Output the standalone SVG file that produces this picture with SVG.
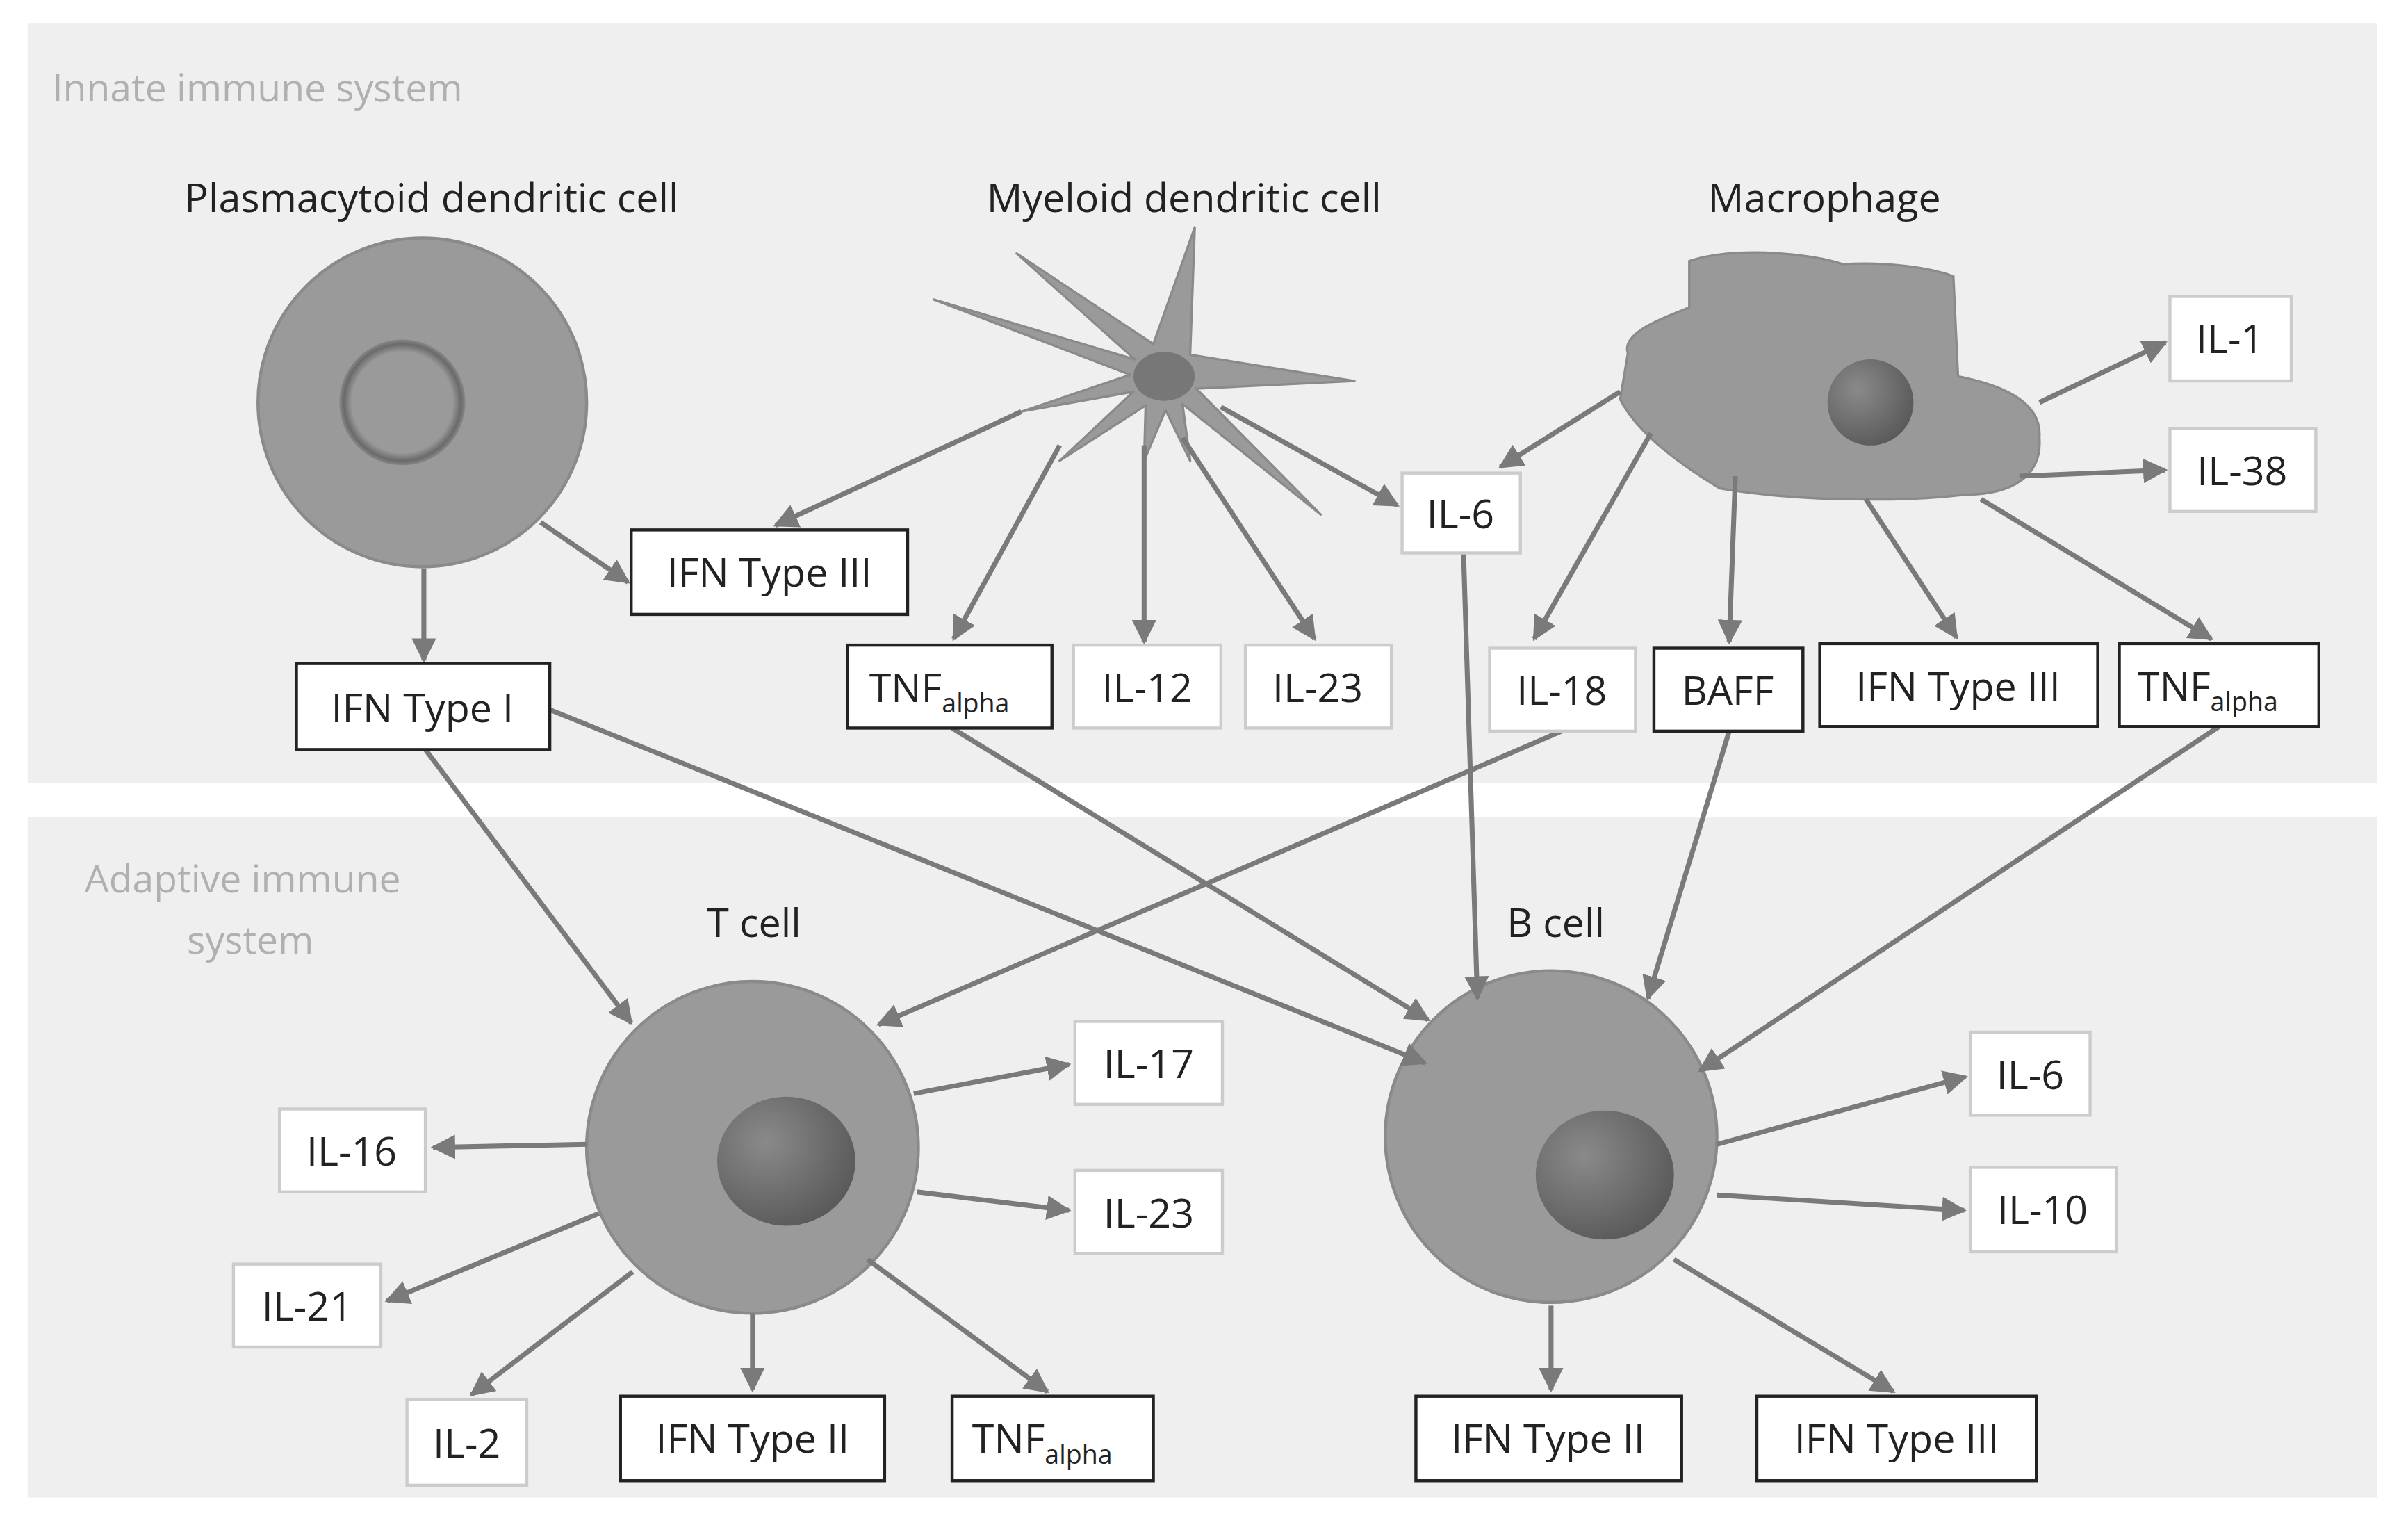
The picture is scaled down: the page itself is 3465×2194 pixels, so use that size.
<svg xmlns="http://www.w3.org/2000/svg" width="3465" height="2194" viewBox="0 0 3465 2194">
<style>
.t{font-family:"Open Sans","Liberation Sans",sans-serif;fill:#222;font-size:26px}
.h{font-family:"Open Sans","Liberation Sans",sans-serif;fill:#b0b0b0;font-size:25px}
.hd{font-family:"Open Sans","Liberation Sans",sans-serif;fill:#222;font-size:26px;text-anchor:middle}
.bl{fill:#fff;stroke:#ccc;stroke-width:2}
.bd{fill:#fff;stroke:#222;stroke-width:2}
.c{fill:#9a9a9a;stroke:#8a8a8a;stroke-width:2}
.ar line{stroke:#7a7a7a;stroke-width:3.2;marker-end:url(#a)}
</style>
<defs>
<marker id="a" viewBox="0 0 10 10" refX="9" refY="5" markerWidth="5" markerHeight="5" orient="auto" markerUnits="strokeWidth"><path d="M0,0L10,5L0,10z" fill="#7a7a7a"/></marker>
<radialGradient id="n" cx="0.35" cy="0.35" r="0.7"><stop offset="0" stop-color="#8a8a8a"/><stop offset="1" stop-color="#5a5a5a"/></radialGradient>
<radialGradient id="ring" cx="0.5" cy="0.5" r="0.5"><stop offset="0.8" stop-color="#9a9a9a"/><stop offset="0.93" stop-color="#6a6a6a"/><stop offset="1" stop-color="#888"/></radialGradient>
</defs>
<rect width="3465" height="2194" fill="#fff"/>
<g transform="scale(2.2098)">
<rect x="18" y="15" width="1530" height="495" fill="#efefef"/>
<rect x="18" y="532" width="1530" height="443" fill="#efefef"/>
<text class="h" x="34" y="66">Innate immune system</text>
<text class="h" x="158" y="581" text-anchor="middle">Adaptive immune</text>
<text class="h" x="163" y="621" text-anchor="middle">system</text>
<text class="hd" x="281" y="138">Plasmacytoid dendritic cell</text>
<text class="hd" x="771" y="138">Myeloid dendritic cell</text>
<text class="hd" x="1188" y="138">Macrophage</text>
<text class="hd" x="491" y="610">T cell</text>
<text class="hd" x="1013" y="610">B cell</text>

<g id="pdc"><circle class="c" cx="275" cy="262" r="107"/><circle cx="262" cy="262" r="41" fill="url(#ring)"/></g>
<g id="mdc"><polygon fill="#9a9a9a" stroke="#8a8a8a" stroke-width="1.5" stroke-linejoin="round" points="882,248 779,253 860,335 770,263 775,300 759,267 745,300 746,264 690,300 738,255 665,268 736,244 608,195 739,234 662,165 751,224 778,148 775,231"/><ellipse cx="758" cy="245" rx="20" ry="16" fill="#777"/></g>
<g id="mac"><path fill="#999" stroke="#8a8a8a" stroke-width="1.5" d="M1060,230 C1055,215 1090,205 1100,200 L1100,170 C1130,160 1180,165 1200,172 C1230,170 1260,175 1272,180 L1275,245 C1300,250 1330,260 1328,285 C1330,310 1310,322 1280,322 C1230,328 1160,325 1120,318 C1090,300 1065,280 1055,260 Z"/><circle cx="1218" cy="262" r="28" fill="url(#n)"/></g>
<g id="tcell"><circle class="c" cx="490" cy="747" r="108"/><ellipse cx="512" cy="756" rx="45" ry="42" fill="url(#n)"/></g>
<g id="bcell"><circle class="c" cx="1010" cy="740" r="108"/><ellipse cx="1045" cy="765" rx="45" ry="42" fill="url(#n)"/></g>

<g class="ar" id="connectors">
<line x1="352" y1="340" x2="409" y2="379"/>
<line x1="276" y1="370" x2="276" y2="430"/>
<line x1="665" y1="268" x2="505" y2="342"/>
<line x1="690" y1="290" x2="621" y2="416"/>
<line x1="745" y1="290" x2="745" y2="418"/>
<line x1="770" y1="285" x2="856" y2="416"/>
<line x1="795" y1="265" x2="910" y2="329"/>
<line x1="1055" y1="255" x2="977" y2="304"/>
<line x1="1075" y1="282" x2="999" y2="416"/>
<line x1="1130" y1="310" x2="1126" y2="418"/>
<line x1="1215" y1="325" x2="1274" y2="415"/>
<line x1="1290" y1="325" x2="1440" y2="416"/>
<line x1="1328" y1="262" x2="1410" y2="223"/>
<line x1="1315" y1="310" x2="1410" y2="306"/>
<line x1="953" y1="360" x2="962" y2="650"/>
<line x1="277" y1="488" x2="411" y2="666"/>
<line x1="358" y1="462" x2="928" y2="692"/>
<line x1="620" y1="474" x2="930" y2="664"/>
<line x1="1017" y1="476" x2="572" y2="667"/>
<line x1="1126" y1="476" x2="1073" y2="650"/>
<line x1="1445" y1="473" x2="1107" y2="697"/>
<line x1="595" y1="712" x2="696" y2="693"/>
<line x1="382" y1="745" x2="282" y2="747"/>
<line x1="597" y1="776" x2="696" y2="788"/>
<line x1="390" y1="790" x2="252" y2="847"/>
<line x1="412" y1="828" x2="307" y2="908"/>
<line x1="490" y1="855" x2="490" y2="905"/>
<line x1="565" y1="820" x2="682" y2="906"/>
<line x1="1118" y1="745" x2="1280" y2="701"/>
<line x1="1118" y1="778" x2="1279" y2="788"/>
<line x1="1010" y1="850" x2="1010" y2="905"/>
<line x1="1090" y1="820" x2="1233" y2="906"/>
</g>

<g id="b1"><rect class="bd" x="411" y="345" width="180" height="55"/><text class="t" x="501" y="382" text-anchor="middle">IFN Type III</text></g>
<g id="b2"><rect class="bd" x="193" y="432" width="165" height="56"/><text class="t" x="275" y="470" text-anchor="middle">IFN Type I</text></g>
<g id="b3"><rect class="bd" x="552" y="420" width="133" height="54"/><text class="t" x="566" y="457">TNF<tspan font-size="17" dy="7">alpha</tspan></text></g>
<g id="b4"><rect class="bl" x="699" y="420" width="96" height="54"/><text class="t" x="747" y="457" text-anchor="middle">IL-12</text></g>
<g id="b5"><rect class="bl" x="811" y="420" width="95" height="54"/><text class="t" x="858" y="457" text-anchor="middle">IL-23</text></g>
<g id="b6"><rect class="bl" x="913" y="308" width="77" height="52"/><text class="t" x="951" y="344" text-anchor="middle">IL-6</text></g>
<g id="b7"><rect class="bl" x="970" y="422" width="95" height="54"/><text class="t" x="1017" y="459" text-anchor="middle">IL-18</text></g>
<g id="b8"><rect class="bd" x="1077" y="422" width="97" height="54"/><text class="t" x="1125" y="459" text-anchor="middle">BAFF</text></g>
<g id="b9"><rect class="bd" x="1185" y="419" width="181" height="54"/><text class="t" x="1275" y="456" text-anchor="middle">IFN Type III</text></g>
<g id="b10"><rect class="bd" x="1380" y="419" width="130" height="54"/><text class="t" x="1392" y="456">TNF<tspan font-size="17" dy="7">alpha</tspan></text></g>
<g id="b11"><rect class="bl" x="1413" y="193" width="79" height="55"/><text class="t" x="1452" y="230" text-anchor="middle">IL-1</text></g>
<g id="b12"><rect class="bl" x="1413" y="279" width="95" height="54"/><text class="t" x="1460" y="316" text-anchor="middle">IL-38</text></g>
<g id="b13"><rect class="bl" x="700" y="665" width="96" height="54"/><text class="t" x="748" y="702" text-anchor="middle">IL-17</text></g>
<g id="b14"><rect class="bl" x="182" y="722" width="95" height="54"/><text class="t" x="229" y="759" text-anchor="middle">IL-16</text></g>
<g id="b15"><rect class="bl" x="700" y="762" width="96" height="54"/><text class="t" x="748" y="799" text-anchor="middle">IL-23</text></g>
<g id="b16"><rect class="bl" x="152" y="823" width="96" height="54"/><text class="t" x="200" y="860" text-anchor="middle">IL-21</text></g>
<g id="b17"><rect class="bl" x="265" y="911" width="78" height="56"/><text class="t" x="304" y="949" text-anchor="middle">IL-2</text></g>
<g id="b18"><rect class="bd" x="404" y="909" width="172" height="55"/><text class="t" x="490" y="946" text-anchor="middle">IFN Type II</text></g>
<g id="b19"><rect class="bd" x="620" y="909" width="131" height="55"/><text class="t" x="633" y="946">TNF<tspan font-size="17" dy="7">alpha</tspan></text></g>
<g id="b20"><rect class="bl" x="1283" y="672" width="78" height="54"/><text class="t" x="1322" y="709" text-anchor="middle">IL-6</text></g>
<g id="b21"><rect class="bl" x="1283" y="760" width="95" height="55"/><text class="t" x="1330" y="797" text-anchor="middle">IL-10</text></g>
<g id="b22"><rect class="bd" x="922" y="909" width="173" height="55"/><text class="t" x="1008" y="946" text-anchor="middle">IFN Type II</text></g>
<g id="b23"><rect class="bd" x="1144" y="909" width="182" height="55"/><text class="t" x="1235" y="946" text-anchor="middle">IFN Type III</text></g>
</g>
</svg>
